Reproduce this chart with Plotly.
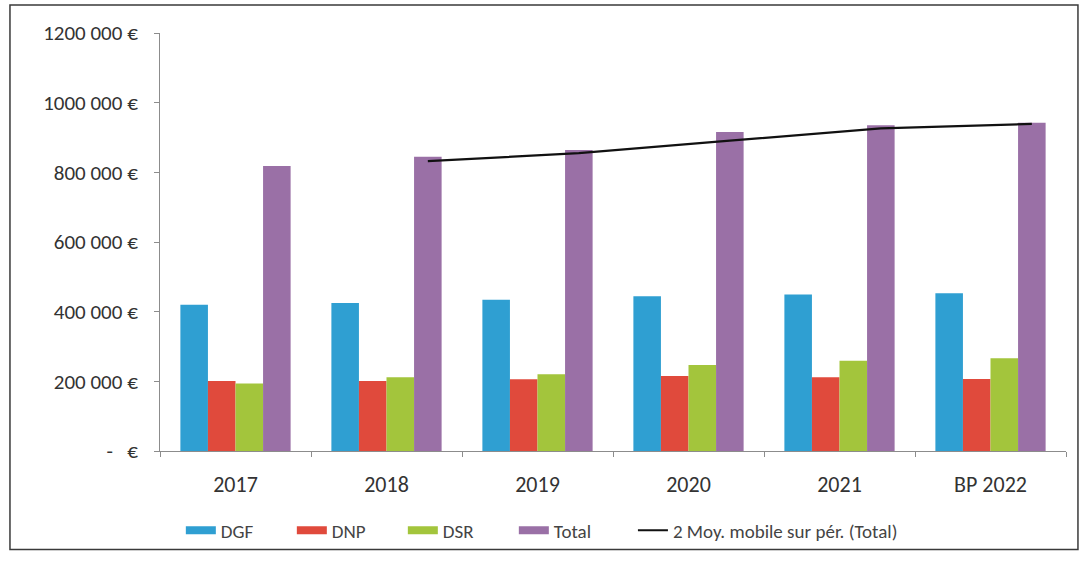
import plotly.graph_objects as go

# Dotations per year (euros)
years = ["2017", "2018", "2019", "2020", "2021", "BP 2022"]
dgf = [420000, 425000, 434000, 444000, 449000, 453000]
dnp = [201000, 201000, 206000, 215000, 212000, 207000]
dsr = [194000, 212000, 220000, 247000, 259000, 266000]
total = [818000, 845000, 864000, 916000, 935000, 942000]
# 2-period moving average of the total, from 2018 onward
moy_years = ["2018", "2019", "2020", "2021", "BP 2022"]
moy_total = [832000, 855000, 891000, 926000, 939000]

y_ticks = [0, 200000, 400000, 600000, 800000, 1000000, 1200000]
y_labels = ["-   €", "200 000 €", "400 000 €", "600 000 €", "800 000 €", "1000 000 €", "1200 000 €"]

colors = {"DGF": "#2f9fd2", "DNP": "#e04a3c", "DSR": "#a3c53c", "Total": "#9a70a6"}

BARGAP = 0.27
N_SERIES = 4

fig = go.Figure()
for name, vals in [("DGF", dgf), ("DNP", dnp), ("DSR", dsr), ("Total", total)]:
    fig.add_trace(go.Bar(x=years, y=vals, name=name, marker_color=colors[name],
                         marker_line_width=0, showlegend=False, legendgroup=name))
    # wide flat swatch for the legend entry
    fig.add_trace(go.Scatter(x=[years[0]], y=[None], mode="lines", name=name,
                             legendgroup=name, line=dict(color=colors[name], width=8),
                             hoverinfo="skip"))

# The moving-average line runs through the centres of the Total bars
group_w = 1 - BARGAP
total_offset = group_w / 2 - group_w / (2 * N_SERIES)
moy_x = [years.index(y) + total_offset for y in moy_years]
fig.add_trace(go.Scatter(x=moy_x, y=moy_total, xaxis="x2", mode="lines",
                         name="2 Moy. mobile sur pér. (Total)", legend="legend2",
                         line=dict(color="#111111", width=2.2)))

font_family = "Carlito, Lato, Liberation Sans, sans-serif"
legend_font = dict(family=font_family, size=19, color="#444444", weight=300)

fig.update_layout(
    width=1083, height=562,
    margin=dict(l=160, r=17, t=33, b=109),
    paper_bgcolor="white", plot_bgcolor="white",
    barmode="group", bargap=BARGAP, bargroupgap=0,
    font=dict(family=font_family, color="#333333", size=15),
    showlegend=True,
    legend=dict(orientation="h", x=0.023, xanchor="left", y=-0.19, yanchor="middle",
                font=legend_font, traceorder="normal",
                entrywidth=66, entrywidthmode="pixels", tracegroupgap=0,
                bgcolor="rgba(0,0,0,0)"),
    legend2=dict(orientation="h", x=0.522, xanchor="left", y=-0.19, yanchor="middle",
                 font=legend_font, bgcolor="rgba(0,0,0,0)"),
    xaxis=dict(type="category", range=[-0.5, 5.5], showline=True, linecolor="#8c8c8c",
               linewidth=1, ticks="outside", tickson="boundaries", ticklen=5,
               tickcolor="#8c8c8c", showgrid=False, ticklabelstandoff=14,
               tickfont=dict(size=22, color="#333333", weight=300)),
    xaxis2=dict(overlaying="x", range=[-0.5, 5.5], visible=False),
    yaxis=dict(range=[0, 1200000], tickvals=y_ticks, ticktext=y_labels,
               showline=True, linecolor="#8c8c8c", linewidth=1, ticks="outside",
               ticklen=5, tickcolor="#8c8c8c", showgrid=False, zeroline=False,
               ticklabelstandoff=12, tickfont=dict(size=21, color="#333333", weight=300)),
    shapes=[dict(type="rect", xref="paper", yref="paper",
                 x0=-0.1656, x1=1.0132, y0=-0.2357, y1=1.0667,
                 line=dict(color="#3a3a3a", width=1.5))],
)

fig.write_html("out.html")
